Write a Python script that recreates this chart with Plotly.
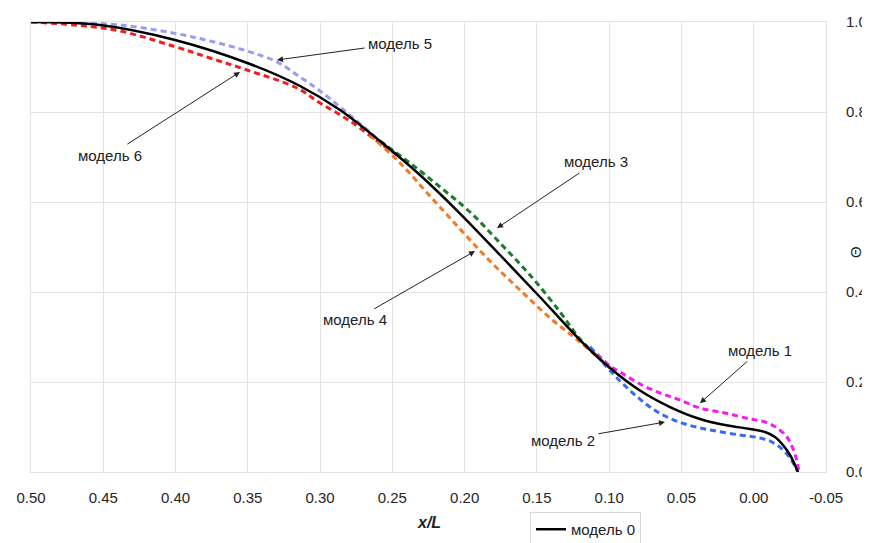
import plotly.graph_objects as go

# ---- data (x/L, Theta) ----
x0 = [0.5, 0.4523, 0.4004, 0.3485, 0.3139, 0.2862, 0.2586, 0.2309, 0.2032, 0.1755, 0.1479,
      0.1202, 0.0994, 0.0787, 0.0579, 0.0372, 0.0199, 0.0026, -0.0078, -0.0147, -0.0202,
      -0.0251, -0.0285, -0.0306]
y0 = [1.0, 0.9933, 0.96, 0.9067, 0.8578, 0.8044, 0.7356, 0.66, 0.5744, 0.4822, 0.3889,
      0.2933, 0.2311, 0.1811, 0.1444, 0.1178, 0.1044, 0.0956, 0.0889, 0.0778, 0.06,
      0.0378, 0.0156, 0.0]

x1 = [0.1133, 0.0994, 0.0925, 0.0787, 0.0648, 0.051, 0.0372, 0.0199, 0.0026, -0.0078,
      -0.0161, -0.023, -0.0272, -0.0299, -0.0313]
y1 = [0.2778, 0.2356, 0.2222, 0.1956, 0.1756, 0.16, 0.1422, 0.1311, 0.1178, 0.1111,
      0.0978, 0.0778, 0.0511, 0.0244, 0.0]

x2 = [0.1133, 0.1029, 0.0925, 0.0821, 0.0718, 0.0614, 0.0476, 0.0301, 0.0095, -0.0043,
      -0.0126, -0.0196, -0.0251, -0.0285, -0.0306]
y2 = [0.2778, 0.2378, 0.2022, 0.1711, 0.1444, 0.1244, 0.1067, 0.0933, 0.0822, 0.0756,
      0.0667, 0.0511, 0.0311, 0.0133, 0.0]

x3 = [0.2586, 0.2378, 0.217, 0.1963, 0.1755, 0.1548, 0.134, 0.1202, 0.0994]
y3 = [0.7356, 0.6867, 0.6333, 0.5778, 0.5089, 0.4378, 0.3556, 0.2956, 0.2311]

x4 = [0.2655, 0.2447, 0.224, 0.2032, 0.1825, 0.1617, 0.1409, 0.1202, 0.0994]
y4 = [0.7489, 0.6867, 0.6133, 0.54, 0.4689, 0.4044, 0.3422, 0.2889, 0.2311]

x5 = [0.5, 0.4696, 0.4384, 0.4018, 0.3762, 0.3506, 0.3298, 0.3139, 0.30, 0.2828, 0.2586]
y5 = [1.0, 0.9989, 0.9933, 0.9756, 0.9578, 0.9356, 0.9111, 0.8778, 0.8467, 0.8022, 0.7356]

x6 = [0.5, 0.4696, 0.4384, 0.4018, 0.3762, 0.3506, 0.316, 0.30, 0.2793, 0.2586, 0.2447]
y6 = [1.0, 0.9933, 0.98, 0.9467, 0.92, 0.8933, 0.8533, 0.82, 0.78, 0.7311, 0.70]

x_ticks = [0.50, 0.45, 0.40, 0.35, 0.30, 0.25, 0.20, 0.15, 0.10, 0.05, 0.00, -0.05]
y_ticks = [0.0, 0.2, 0.4, 0.6, 0.8, 1.0]

# annotations: label, text position (x, y), arrow tip (x, y)
ann_labels = ["модель 5", "модель 6", "модель 3", "модель 4", "модель 1", "модель 2"]
ann_text_x = [0.2447, 0.4453, 0.1091, 0.2759, -0.0044, 0.132]
ann_text_y = [0.953, 0.704, 0.689, 0.338, 0.271, 0.071]
ann_tip_x = [0.3298, 0.3554, 0.1776, 0.1928, 0.0372, 0.0614]
ann_tip_y = [0.9156, 0.889, 0.542, 0.491, 0.153, 0.111]

FONT = "Arial, Liberation Sans, sans-serif"
DASH = "6px,4px"

fig = go.Figure()
dashed = [
    (x5, y5, "#9a9cf2"),
    (x6, y6, "#f21d1d"),
    (x3, y3, "#1f7a2a"),
    (x4, y4, "#f57a25"),
    (x1, y1, "#f21cf0"),
    (x2, y2, "#3a6af0"),
]
for xs, ys, c in dashed:
    fig.add_trace(go.Scatter(x=xs, y=ys, mode="lines", showlegend=False,
                             line=dict(color=c, width=3, dash=DASH, shape="spline", smoothing=1.0)))

fig.add_trace(go.Scatter(x=x0, y=y0, mode="lines", name="модель 0",
                         line=dict(color="black", width=2.5, shape="spline", smoothing=1.0)))

for lab, tx, ty, ax_, ay_ in zip(ann_labels, ann_text_x, ann_text_y, ann_tip_x, ann_tip_y):
    fig.add_annotation(x=ax_, y=ay_, ax=tx, ay=ty, axref="x", ayref="y", xref="x", yref="y",
                       text=lab, showarrow=True, arrowhead=2, arrowsize=1.2, arrowwidth=1,
                       arrowcolor="#222", font=dict(family=FONT, size=15, color="#222"),
                       standoff=0, startstandoff=2)

fig.add_annotation(x=0.5, y=-0.113, xref="paper", yref="paper", text="<b><i>x/L</i></b>",
                   showarrow=False, font=dict(family=FONT, size=16, color="#222"),
                   xanchor="center", yanchor="middle")
fig.add_annotation(x=1.037, y=0.49, xref="paper", yref="paper", text="Θ", textangle=-90,
                   showarrow=False, font=dict(family=FONT, size=15, color="#222"),
                   xanchor="center", yanchor="middle")

grid = "#e3e3e3"
# the page body adds an 8px offset; size and margins compensate for it
fig.update_layout(
    width=862, height=535,
    margin=dict(l=23, r=44, t=14, b=71, autoexpand=False),
    plot_bgcolor="white", paper_bgcolor="white",
    font=dict(family=FONT, size=15, color="#262626"),
    showlegend=True,
    legend=dict(x=0.6056, y=0.058, xref="container", yref="container",
                xanchor="left", yanchor="top",
                bordercolor="#d9d9d9", borderwidth=1, bgcolor="white",
                font=dict(family=FONT, size=15, color="#222"),
                itemwidth=30, tracegroupgap=0),
)
fig.update_xaxes(range=[0.5, -0.05], tickvals=x_ticks, ticktext=[f"{v:.2f}" for v in x_ticks],
                 showgrid=True, gridcolor=grid, gridwidth=1, zeroline=False,
                 showline=True, linecolor=grid, linewidth=1, mirror=True, automargin=False,
                 ticks="", ticklabelstandoff=12, tickfont=dict(size=15))
fig.update_yaxes(range=[0, 1.0], side="right", tickvals=y_ticks,
                 ticktext=[f"{v:.1f}" for v in y_ticks],
                 showgrid=True, gridcolor=grid, gridwidth=1, zeroline=False,
                 showline=True, linecolor=grid, linewidth=1, mirror=True, automargin=False,
                 ticks="", ticklabelstandoff=16, tickfont=dict(size=15))

fig.write_html("out.html")
